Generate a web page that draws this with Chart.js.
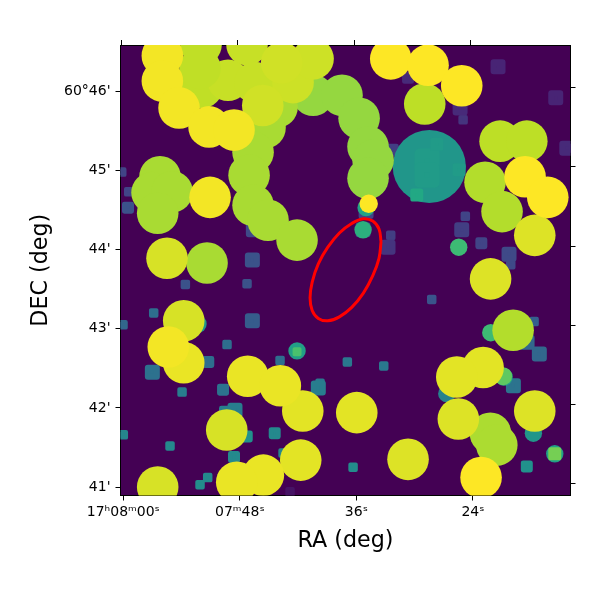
<!DOCTYPE html>
<html>
<head>
<meta charset="utf-8">
<style>html,body{margin:0;padding:0;background:#fff}canvas{display:block}</style>
<script src="https://cdn.jsdelivr.net/npm/chart.js@4"></script>
</head>
<body>
<canvas id="c" width="600" height="600"></canvas>
<script>
// RA is seconds west of 17h08m00s, DEC is arcminutes past 60 deg, flux is the 0..1 colour value
const raTicks = [0, 12, 24, 36];
const raTickLabels = ['17ʰ08ᵐ00ˢ', '07ᵐ48ˢ', '36ˢ', '24ˢ'];
const decTicks = [41, 42, 43, 44, 45, 46];
const decTickLabels = ["41'", "42'", "43'", "44'", "45'", "60°46'"];

const regionRa = [26.54,26.33,25.69,24.72,23.52,22.25,21.06,20.08,19.45,19.23,19.45,20.08,21.06,22.25,23.52,24.72,25.69,26.33,26.54];
const regionDec = [44.10,44.26,44.36,44.39,44.33,44.21,44.03,43.82,43.59,43.39,43.23,43.13,43.10,43.15,43.27,43.45,43.67,43.89,44.10];

const brightRa = [19.54,22.52,24.28,25.20,25.72,25.20,15.83,14.59,13.36,12.95,13.36,14.90,17.89,3.78,2.96,5.02,3.54,8.62,37.80,38.46,40.14,37.25,39.00,38.80,41.55,31.04,8.00,12.74,8.11,10.78,7.90,13.56,17.48,19.54,14.36,16.31,6.22,4.50,10.65,3.54,42.37,37.82,34.50,42.37,29.32,37.05,34.34,18.48,24.04,18.27,6.22,12.81,16.17,14.42,11.68,4.63,4.02,4.02,5.74,8.83,11.40,8.93,27.54,31.38,34.85,41.37,43.71,36.84];
const brightDec = [45.95,45.95,45.66,45.30,45.13,44.90,45.80,45.54,45.23,44.94,44.56,44.37,44.12,44.92,44.72,44.73,44.46,43.83,41.68,41.53,42.98,44.85,44.48,45.37,45.37,45.84,46.59,46.59,46.05,46.14,46.29,46.11,46.11,46.41,45.82,46.36,43.10,43.89,41.72,41.00,44.18,43.63,41.86,41.96,41.35,42.51,42.39,41.96,41.94,41.34,42.57,42.40,42.28,41.15,41.06,42.77,46.45,46.13,45.79,45.55,45.51,44.66,46.41,46.33,46.07,44.92,44.66,41.12];
const brightFlux = [.84,.84,.84,.84,.84,.84,.87,.87,.87,.87,.87,.87,.87,.87,.87,.87,.87,.87,.875,.875,.885,.885,.885,.9,.9,.9,.905,.915,.905,.915,.905,.915,.925,.925,.93,.93,.94,.94,.94,.94,.95,.95,.95,.95,.95,.96,.96,.96,.96,.96,.97,.97,.97,.97,.97,.985,.985,.985,.985,.985,.985,.985,1,1,1,1,1,1];

const capRa = [25.27];
const capDec = [44.58];
const capFlux = [1];

const extendedRa = [31.51];
const extendedDec = [45.05];
const extendedFlux = [.52];

const ringRa = [24.69,25.0,34.54,17.89,37.84,39.21,44.43,7.69,42.23,33.31];
const ringDec = [44.25,44.53,44.03,42.72,42.95,42.39,41.42,43.06,41.68,42.18];
const ringFlux = [.63,.58,.68,.56,.68,.58,.56,.52,.52,.44];

const coreRa = [39.11];
const coreDec = [42.40];
const coreFlux = [.75];

const patchWideRa = [31.28,31.28];
const patchWideDec = [45.12,44.94];
const patchWideFlux = [.545,.545];

const patchRa = [32.28,34.57,30.22,44.43];
const patchDec = [45.33,45.01,44.69,41.42];
const patchFlux = [.545,.545,.6,.79];

const patchTinyRa = [17.89];
const patchTinyDec = [42.71];
const patchTinyFlux = [.71];

const faintSmallRa = [.56,34.99,42.30,10.68,6.05,8.69,7.90,4.81,0,-.03,23.07,26.82,31.76,23.66,16.14,20.26,16.45,3.13,6.39,12.74,39.90,27.54,35.22,-.16,17.17];
const faintSmallDec = [44.73,45.64,43.09,42.80,42.20,41.12,41.03,41.52,41.66,43.05,42.58,42.53,43.37,41.25,42.60,42.31,41.43,43.20,43.56,43.57,43.81,44.18,44.42,44.98,40.94];
const faintSmallFlux = [.2,.15,.3,.36,.42,.47,.48,.47,.45,.33,.4,.4,.26,.48,.36,.4,.45,.36,.25,.25,.22,.18,.2,.2,.05];

const faintMidRa = [.48,11.40,10.27,41.55,36.87,8.75,15.59,12.71,10.47,27.75,29.32];
const faintMidDec = [44.53,41.38,42.23,41.26,44.08,42.58,41.68,41.64,41.95,45.26,46.17];
const faintMidFlux = [.25,.47,.38,.5,.2,.36,.47,.5,.42,.18,.12];

const faintLargeRa = [38.59,44.53,34.68,45.67,34.85,27.26,13.39,13.29,13.29,2.99,42.84,40.17,11.50,20.08,39.72,25.0,24.69,41.58];
const faintLargeDec = [46.31,45.92,45.79,45.28,44.25,44.03,44.25,43.87,43.10,42.45,42.68,42.28,41.97,42.25,43.94,44.48,44.25,42.83];
const faintLargeFlux = [.1,.1,.12,.12,.18,.15,.22,.25,.29,.37,.33,.38,.42,.42,.22,.2,.2,.33];

const viridisStops = ['#440154','#482475','#414487','#355f8d','#2a788e','#21918c','#22a884','#44bf70','#7ad151','#bddf26','#fde725'];

function viridis(t) {
  const p = Math.max(0, Math.min(1, t)) * (viridisStops.length - 1);
  const i = Math.min(Math.floor(p), viridisStops.length - 2);
  const f = p - i;
  const a = viridisStops[i], b = viridisStops[i + 1];
  const ch = (s, k) => parseInt(s.substr(1 + k * 2, 2), 16);
  return 'rgb(' + [0, 1, 2].map(k => Math.round(ch(a, k) + (ch(b, k) - ch(a, k)) * f)).join(',') + ')';
}

function pts(xs, ys) { return xs.map((x, i) => ({x, y: ys[i]})); }

function circles(xs, ys, flux, radius) {
  return {data: pts(xs, ys), pointStyle: 'circle', pointRadius: radius, pointHoverRadius: radius,
    pointBackgroundColor: flux.map(viridis), pointBorderWidth: 0, clip: 0};
}
function squares(xs, ys, flux, side) {
  const w = side * 0.4;
  const r = (side / 2 - w / 2) / Math.SQRT1_2;
  const cols = flux.map(viridis);
  return {data: pts(xs, ys), pointStyle: 'rect', pointRadius: r, pointHoverRadius: r,
    pointBackgroundColor: cols, pointBorderColor: cols, pointBorderWidth: w, clip: 0};
}

const frame = {
  id: 'frame',
  beforeDraw(chart) {
    const a = chart.chartArea, c = chart.ctx;
    c.save();
    c.fillStyle = '#fff';
    c.fillRect(0, 0, 600, 600);
    c.fillStyle = '#440154';
    c.fillRect(a.left, a.top, a.right - a.left, a.bottom - a.top);
    c.restore();
  },
  beforeDatasetsDraw(chart) { chart.ctx.lineJoin = 'round'; }
};

const tickFont = {family: '"DejaVu Sans"', size: 14};
const titleFont = {family: '"DejaVu Sans"', size: 22.2};
function fixedTicks(values) { return s => { s.ticks = values.map(value => ({value})); }; }
function gridOpts() { return {drawOnChartArea: false, drawTicks: true, tickLength: 5, tickColor: '#000', tickWidth: 1}; }
const borderOpts = {display: true, color: '#000', width: 1};
function fitBox(prop, size) {
  return s => { s[prop] = size; s.paddingLeft = 0; s.paddingRight = 0; s.paddingTop = 0; s.paddingBottom = 0; };
}

new Chart(document.getElementById('c'), {
  type: 'scatter',
  data: {datasets: [
    {data: pts(regionRa, regionDec), showLine: true, tension: 0.4, borderColor: '#ff0000', borderWidth: 3, pointRadius: 0, fill: false, clip: 0},
    circles(capRa, capDec, capFlux, 9.2),
    circles(brightRa, brightDec, brightFlux, 20.8),
    squares(patchTinyRa, patchTinyDec, patchTinyFlux, 9),
    squares(patchRa, patchDec, patchFlux, 13),
    squares(patchWideRa, patchWideDec, patchWideFlux, 25),
    circles(coreRa, coreDec, coreFlux, 9),
    circles(ringRa, ringDec, ringFlux, 8.7),
    circles(extendedRa, extendedDec, extendedFlux, 36.6),
    squares(faintLargeRa, faintLargeDec, faintLargeFlux, 15),
    squares(faintMidRa, faintMidDec, faintMidFlux, 12),
    squares(faintSmallRa, faintSmallDec, faintSmallFlux, 9.5)
  ]},
  plugins: [frame],
  options: {
    responsive: false,
    animation: false,
    devicePixelRatio: 1,
    layout: {padding: 0, autoPadding: false},
    events: [],
    plugins: {legend: {display: false}, tooltip: {enabled: false}},
    scales: {
      x: {
        type: 'linear', position: 'bottom', min: -0.29, max: 46.05,
        afterBuildTicks: fixedTicks(raTicks),
        afterFit: fitBox('height', 104.5),
        grid: gridOpts(), border: borderOpts,
        ticks: {font: tickFont, color: '#000', padding: 3, maxRotation: 0, autoSkip: false,
          callback: v => raTickLabels[raTicks.indexOf(v)]},
        title: {display: true, text: 'RA (deg)', font: titleFont, color: '#000', padding: {top: 45, bottom: 45}}
      },
      xTop: {
        type: 'linear', position: 'top', min: -0.08, max: 46.26,
        afterBuildTicks: fixedTicks(raTicks),
        afterFit: fitBox('height', 45),
        grid: gridOpts(), border: borderOpts,
        ticks: {display: false}
      },
      y: {
        type: 'linear', position: 'left', min: 40.893, max: 46.585,
        afterBuildTicks: fixedTicks(decTicks),
        afterFit: fitBox('width', 120.5),
        grid: gridOpts(), border: borderOpts,
        ticks: {font: tickFont, color: '#000', padding: 5, autoSkip: false,
          callback: v => decTickLabels[decTicks.indexOf(v)]},
        title: {display: true, text: 'DEC (deg)', font: titleFont, color: '#000', padding: {top: 28, bottom: 28}}
      },
      yRight: {
        type: 'linear', position: 'right', min: 40.848, max: 46.54,
        afterBuildTicks: fixedTicks(decTicks),
        afterFit: fitBox('width', 29.5),
        grid: gridOpts(), border: borderOpts,
        ticks: {display: false}
      }
    }
  }
});
</script>
</body>
</html>
